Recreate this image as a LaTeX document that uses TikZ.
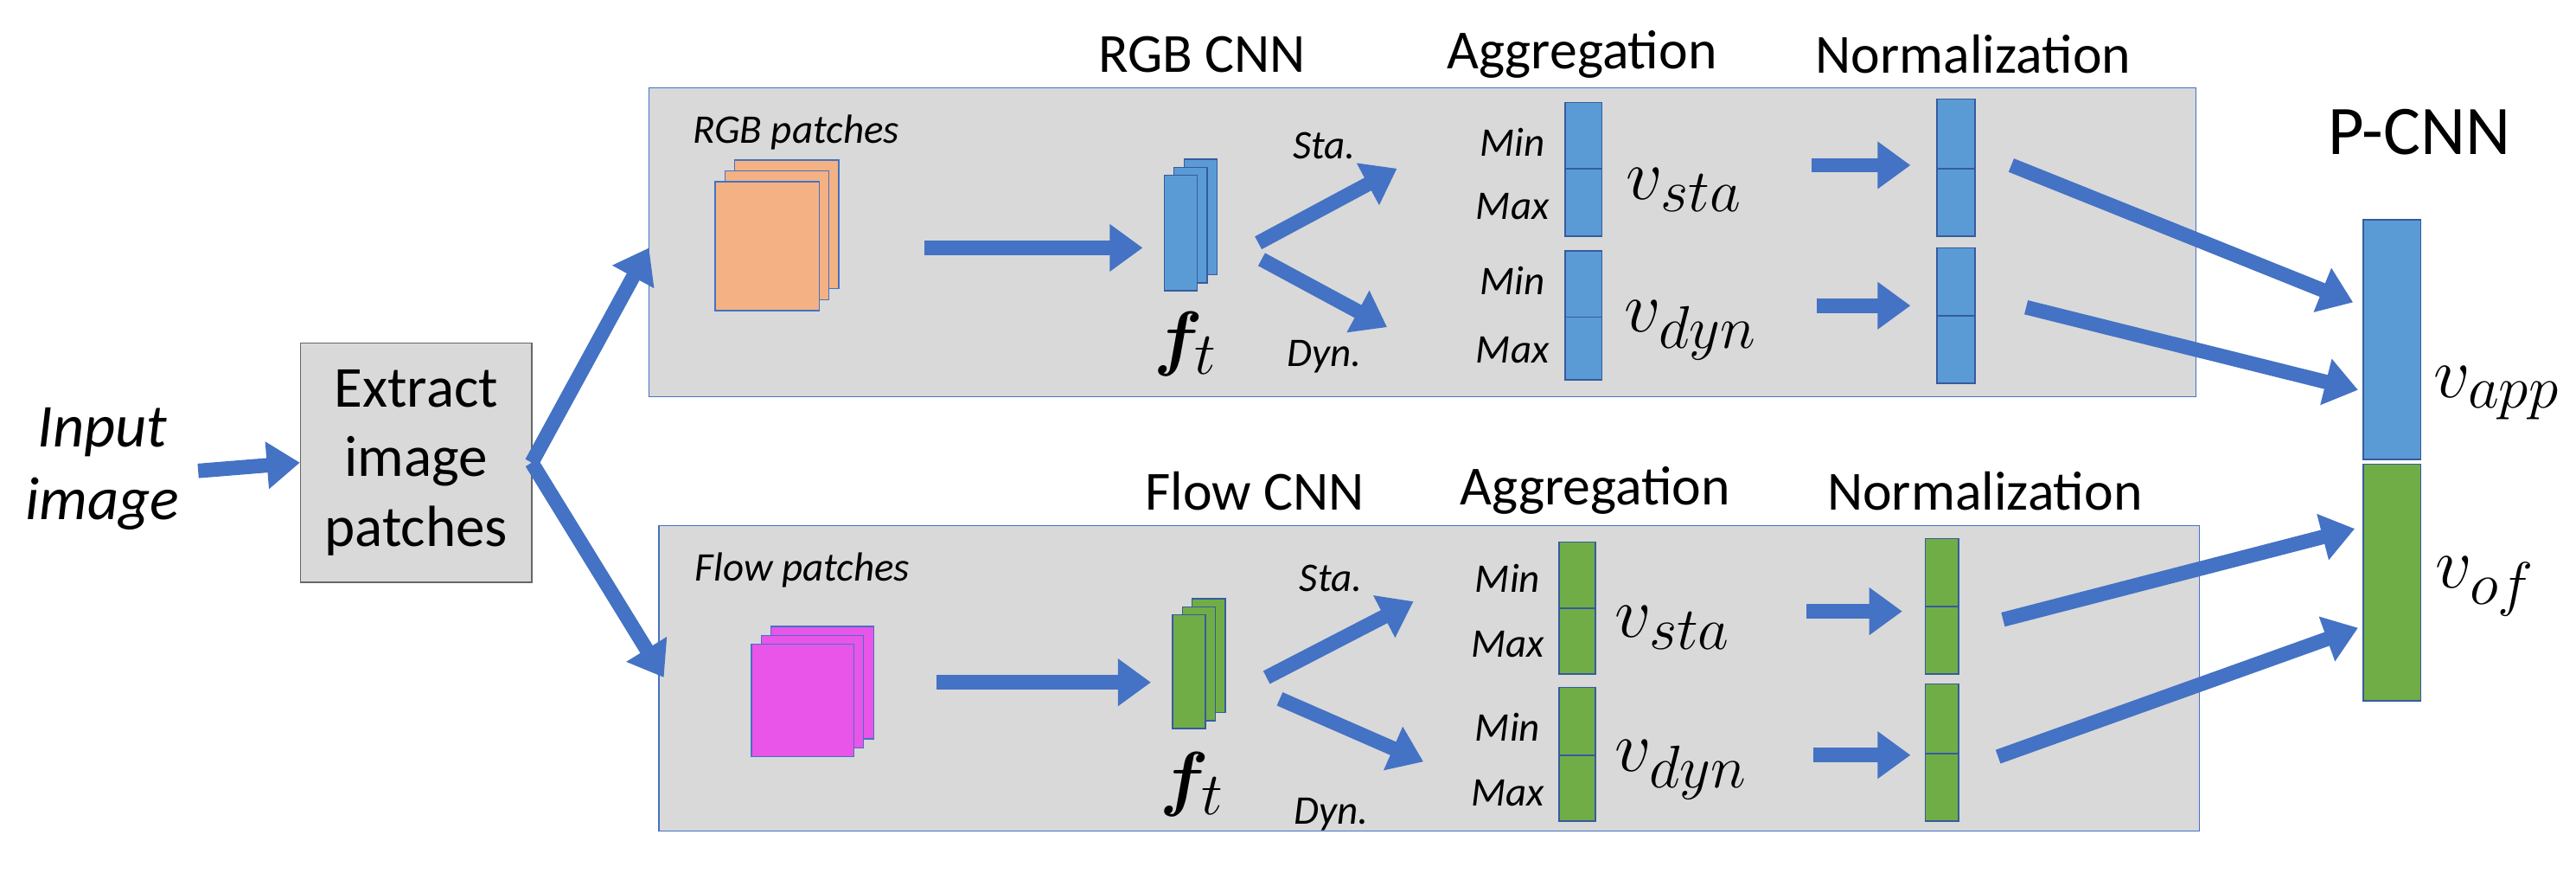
\documentclass[tikz,border=0pt]{standalone}
\usepackage{amsmath,amssymb,bm}
\usepackage{fontspec}
\setmainfont{Carlito}
\usetikzlibrary{arrows.meta}
\definecolor{ab}{HTML}{4472C4}
\definecolor{bb}{HTML}{5B9BD5}
\definecolor{gb}{HTML}{70AD47}
\definecolor{gr}{HTML}{D9D9D9}
\definecolor{orp}{HTML}{F4B183}
\definecolor{mag}{HTML}{E855E8}
\begin{document}
\begin{tikzpicture}[x=0.02cm,y=-0.02cm,
  arr/.style={draw=ab,line width=5pt,-{Triangle[length=0.4cm,width=0.55cm]}},
  panel/.style={draw=ab,fill=gr,line width=0.4pt},
  bar/.style={draw=ab!80!black,line width=0.5pt},
  hd/.style={font=\fontsize{19}{21}\selectfont},
  sm/.style={font=\fontsize{14}{16}\selectfont\itshape},
  mm/.style={font=\fontsize{14}{16}\selectfont\itshape},
  vv/.style={font=\fontsize{28}{30}\selectfont}]
\useasboundingbox (0,0) rectangle (1560,528);
% panels
\draw[panel] (393,53) rectangle (1330,240);
\draw[panel] (399,318) rectangle (1332,503);
% input and extract
\node[font=\fontsize{21}{25}\selectfont\itshape,align=center] (in) at (62,284) {Input\\image};
\node[panel,draw=black!60,minimum width=140*0.02cm,minimum height=145*0.02cm,align=center,font=\fontsize{20}{24}\selectfont] (ex) at (252,280) {Extract\\image\\patches};
\coordinate (inE) at (120,285);
\draw[arr] (inE) -- (ex.west);
\coordinate (sp) at (322,280);
\coordinate (topE) at (393,150);
\coordinate (botE) at (402,410);
\draw[arr] (sp) -- (topE);
\draw[arr] (sp) -- (botE);
% headers
\node[hd] (h1) at (728,33) {RGB CNN};
\node[hd] (h2) at (958,33) {Aggregation};
\node[hd] (h3) at (1195,33) {Normalization};
\node[hd] (h4) at (760,297) {Flow CNN};
\node[hd] (h5) at (966,297) {Aggregation};
\node[hd] (h6) at (1202,297) {Normalization};
\node[font=\fontsize{24}{26}\selectfont] (pc) at (1465,80) {P-CNN};
% patches top
\node[sm] (rgbl) at (482,80) {RGB patches};
\foreach \d in {12,6,0}{\draw[draw=ab,fill=orp,line width=0.4pt] (433+\d,110-\d*1.1) rectangle (496+\d,188-\d*1.1);}
\foreach \d in {12,6,0}{\draw[draw=ab!80!black,fill=bb,line width=0.4pt] (705+\d,106-\d*0.8) rectangle (725+\d,176-\d*0.8);}
\node[vv] (ftl1) at (718,208) {$\bm{f}_t$};
\coordinate (a1s) at (560,150); \coordinate (a1e) at (692,150);
\draw[arr] (a1s) -- (a1e);
\coordinate (st1s) at (762,147); \coordinate (st1e) at (846,102);
\coordinate (dy1s) at (764,157); \coordinate (dy1e) at (840,198);
\draw[arr] (st1s) -- (st1e); \draw[arr] (dy1s) -- (dy1e);
\node[sm] (sta1) at (802,88) {Sta.};
\node[sm] (dyn1) at (802,216) {Dyn.};
\node[mm] (mi1) at (916,86) {Min}; \node[mm] (ma1) at (916,125) {Max};
\node[mm] (mi2) at (916,170) {Min}; \node[mm] (ma2) at (916,212) {Max};
\draw[bar,fill=bb] (948,62) rectangle (970,102); \draw[bar,fill=bb] (948,102) rectangle (970,143);
\draw[bar,fill=bb] (948,152) rectangle (970,192); \draw[bar,fill=bb] (948,192) rectangle (970,230);
\node[vv] (vs1) at (1020,115) {$v_{sta}$};
\node[vv] (vd1) at (1024,200) {$v_{dyn}$};
\coordinate (n1s) at (1097,100); \coordinate (n1e) at (1157,100);
\coordinate (n2s) at (1100,185); \coordinate (n2e) at (1157,185);
\draw[arr] (n1s) -- (n1e); \draw[arr] (n2s) -- (n2e);
\draw[bar,fill=bb] (1173,60) rectangle (1196,102); \draw[bar,fill=bb] (1173,102) rectangle (1196,143);
\draw[bar,fill=bb] (1173,150) rectangle (1196,191); \draw[bar,fill=bb] (1173,191) rectangle (1196,232);
% P-CNN bar
\draw[bar,fill=bb] (1431,133) rectangle (1466,278);
\draw[bar,fill=gb] (1431,281) rectangle (1466,424);
\node[vv] (vapp) at (1512,238) {$v_{app}$};
\node[vv] (vof) at (1505,355) {$v_{of}$};
\coordinate (p1s) at (1218,100); \coordinate (p1e) at (1425,183);
\coordinate (p2s) at (1227,186); \coordinate (p2e) at (1428,236);
\draw[arr] (p1s) -- (p1e); \draw[arr] (p2s) -- (p2e);
% bottom panel
\node[sm] (flwl) at (486,345) {Flow patches};
\foreach \d in {12,6,0}{\draw[draw=ab,fill=mag,line width=0.4pt] (455+\d,390-\d*0.9) rectangle (517+\d,458-\d*0.9);}
\foreach \d in {12,6,0}{\draw[draw=ab!80!black,fill=gb,line width=0.4pt] (710+\d,372-\d*0.8) rectangle (730+\d,441-\d*0.8);}
\node[vv] (ftl2) at (722,475) {$\bm{f}_t$};
\coordinate (a2s) at (567,413); \coordinate (a2e) at (697,413);
\draw[arr] (a2s) -- (a2e);
\coordinate (st2s) at (767,410); \coordinate (st2e) at (856,364);
\coordinate (dy2s) at (775,423); \coordinate (dy2e) at (862,461);
\draw[arr] (st2s) -- (st2e); \draw[arr] (dy2s) -- (dy2e);
\node[sm] (sta2) at (806,350) {Sta.};
\node[sm] (dyn2) at (806,493) {Dyn.};
\node[mm] (mi3) at (913,350) {Min}; \node[mm] (ma3) at (913,390) {Max};
\node[mm] (mi4) at (913,440) {Min}; \node[mm] (ma4) at (913,480) {Max};
\draw[bar,fill=gb] (944,328) rectangle (966,368); \draw[bar,fill=gb] (944,368) rectangle (966,408);
\draw[bar,fill=gb] (944,416) rectangle (966,457); \draw[bar,fill=gb] (944,457) rectangle (966,497);
\node[vv] (vs2) at (1013,380) {$v_{sta}$};
\node[vv] (vd2) at (1018,466) {$v_{dyn}$};
\coordinate (n3s) at (1094,370); \coordinate (n3e) at (1152,370);
\coordinate (n4s) at (1098,457); \coordinate (n4e) at (1157,457);
\draw[arr] (n3s) -- (n3e); \draw[arr] (n4s) -- (n4e);
\draw[bar,fill=gb] (1166,326) rectangle (1186,367); \draw[bar,fill=gb] (1166,367) rectangle (1186,408);
\draw[bar,fill=gb] (1166,414) rectangle (1186,456); \draw[bar,fill=gb] (1166,456) rectangle (1186,497);
\coordinate (p3s) at (1213,375); \coordinate (p3e) at (1426,320);
\coordinate (p4s) at (1210,458); \coordinate (p4e) at (1428,380);
\draw[arr] (p3s) -- (p3e); \draw[arr] (p4s) -- (p4e);
\end{tikzpicture}
\end{document}
